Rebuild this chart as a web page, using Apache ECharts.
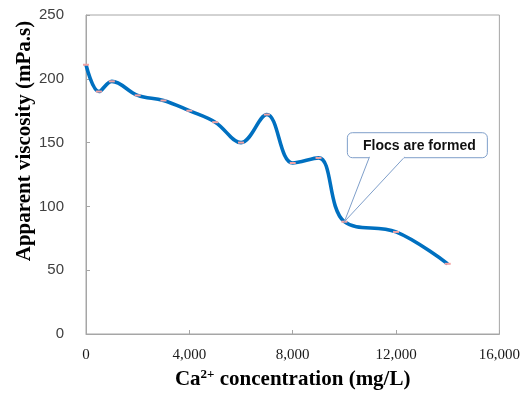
<!DOCTYPE html>
<html>
<head>
<meta charset="utf-8">
<script src="https://cdn.jsdelivr.net/npm/echarts@6/dist/echarts.min.js"></script>
<style>
  html, body { margin: 0; padding: 0; background: #ffffff; }
  #chart { width: 523px; height: 396px; }
</style>
</head>
<body>
<div id="chart"></div>
<script>
// Ca2+ concentration (mg/L) and the measured apparent viscosity (mPa.s)
const concentration = [0, 500, 1000, 2000, 3000, 4000, 5000, 6000, 7000, 8000, 9000, 10000, 12000, 14000];
const viscosity     = [211, 190, 198, 187, 183, 175, 166, 150, 172, 134, 138, 88, 80, 55];

// Axis ranges and tick steps
const xTicks = { min: 0, max: 16000, interval: 4000 };
const yTicks = { min: 0, max: 250, interval: 50 };

// Callout text and the point it refers to
const calloutText = 'Flocs are formed';
const calloutIndex = 11;

const chart = echarts.init(document.getElementById('chart'), null, { renderer: 'canvas' });

const axisGray = '#a6a6a6';

chart.setOption({
  animation: false,
  backgroundColor: '#ffffff',
  grid: {
    left: 86, right: 21, top: 15, bottom: 62,
    show: true, borderColor: axisGray, borderWidth: 1
  },
  xAxis: {
    type: 'value',
    min: xTicks.min, max: xTicks.max, interval: xTicks.interval,
    axisLine: { show: true, lineStyle: { color: axisGray, width: 1 } },
    axisTick: { show: true, inside: true, length: 4, lineStyle: { color: axisGray } },
    splitLine: { show: false },
    axisLabel: {
      margin: 14,
      fontFamily: 'Liberation Serif', fontSize: 15, color: '#1a1a1a',
      formatter: v => v.toLocaleString('en-US')
    },
    name: '{b|Ca}{s|2+}{b| concentration (mg/L)}',
    nameLocation: 'middle',
    nameGap: 32,
    nameTextStyle: {
      rich: {
        b: { fontFamily: 'Liberation Serif', fontWeight: 'bold', fontSize: 21, color: '#000' },
        s: { fontFamily: 'Liberation Serif', fontWeight: 'bold', fontSize: 13, color: '#000', verticalAlign: 'top', padding: [0, 0, 10, 0] }
      }
    }
  },
  yAxis: {
    type: 'value',
    min: yTicks.min, max: yTicks.max, interval: yTicks.interval,
    axisLine: { show: true, lineStyle: { color: axisGray, width: 1 } },
    axisTick: { show: true, inside: true, length: 4, lineStyle: { color: axisGray } },
    splitLine: { show: false },
    axisLabel: {
      margin: 22,
      fontFamily: 'Liberation Sans', fontSize: 15, color: '#404040'
    }
  },
  series: [{
    type: 'line',
    data: concentration.map((c, i) => [c, viscosity[i]]),
    smooth: 0.38,
    lineStyle: { color: '#0070c0', width: 3.6 },
    symbol: 'rect',
    symbolSize: [6, 2],
    itemStyle: { color: '#f4a3a3' },
    z: 3
  }]
});

// Y-axis title and the callout box with a wedge pointing at the referenced point
const apex = chart.convertToPixel({ gridIndex: 0 }, [concentration[calloutIndex], viscosity[calloutIndex]]);
const boxX = apex[0] + 3, boxY = apex[1] - 89, boxW = 140, boxH = 25;
const calloutBlue = '#7f9fca';

chart.setOption({
  graphic: [{
    type: 'text',
    x: 25, y: 141,
    rotation: Math.PI / 2,
    style: {
      text: 'Apparent viscosity (mPa.s)',
      fontFamily: 'Liberation Serif', fontWeight: 'bold', fontSize: 21,
      fill: '#000', align: 'center', verticalAlign: 'middle'
    }
  }, {
    type: 'rect',
    shape: { x: boxX, y: boxY, width: boxW, height: boxH, r: 5 },
    style: { fill: '#ffffff', stroke: calloutBlue, lineWidth: 1 },
    z: 10
  }, {
    type: 'polygon',
    shape: { points: [[boxX + 22, boxY + boxH - 0.5], [apex[0], apex[1]], [boxX + 57, boxY + boxH - 0.5]] },
    style: { fill: '#ffffff', stroke: calloutBlue, lineWidth: 1 },
    z: 10
  }, {
    type: 'rect',
    shape: { x: boxX + 22.5, y: boxY + boxH - 2, width: 34, height: 2.5 },
    style: { fill: '#ffffff' },
    z: 11
  }, {
    type: 'text',
    x: boxX + boxW / 2 + 2, y: boxY + boxH / 2 + 0.5,
    style: {
      text: calloutText,
      fontFamily: 'Liberation Sans', fontWeight: 'bold', fontSize: 14,
      fill: '#111', align: 'center', verticalAlign: 'middle'
    },
    z: 12
  }]
});
</script>
</body>
</html>
